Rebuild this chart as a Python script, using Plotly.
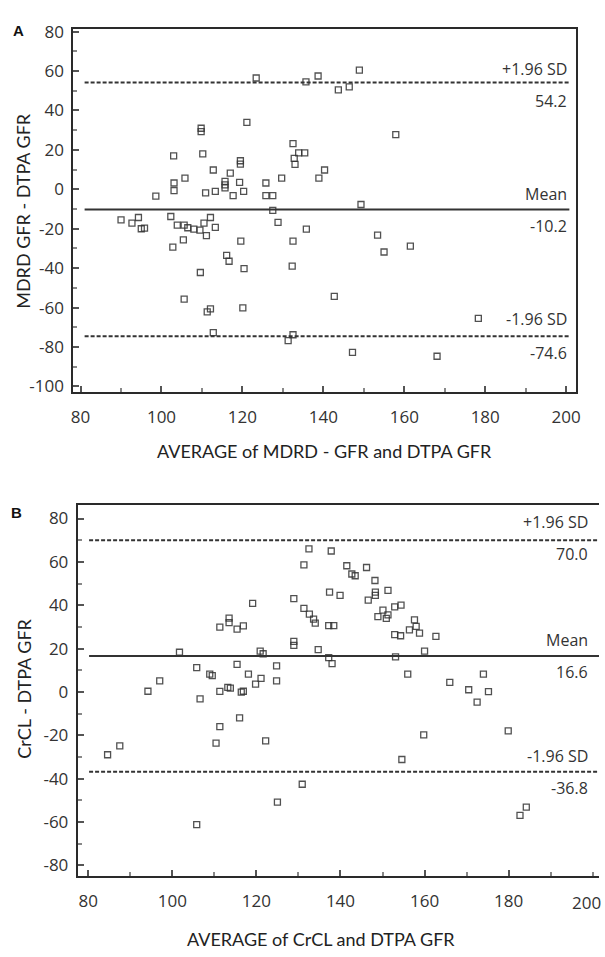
import plotly.graph_objects as go

W, H = 605, 957

# ---------------- Data ----------------
# Panel A: MDRD GFR vs DTPA GFR (Bland-Altman)
a_avg = [123.4, 135.7, 138.7, 143.7, 146.4, 148.9, 157.9, 135.4, 133.9, 140.3,
         138.9, 149.3, 135.8, 153.4, 155.0, 161.5, 142.7, 178.3, 147.2, 168.1,
         121.1, 109.8, 109.8, 103.0, 110.2, 112.8, 119.5, 119.5, 117.0, 115.7,
         115.7, 115.7, 119.3, 120.3, 117.7, 113.3, 110.9, 105.8, 103.1, 103.1,
         98.6, 125.8, 125.8, 127.5, 129.7, 132.5, 132.8, 133.0, 127.5, 90.0,
         92.7, 94.3, 95.8, 95.0, 102.3, 103.9, 105.6, 106.5, 108.0, 109.5,
         110.5, 112.1, 113.3, 111.1, 105.4, 102.8, 119.6, 116.1, 116.7, 109.6,
         120.4, 105.6, 112.1, 111.3, 120.1, 112.8, 131.3, 132.5, 128.8, 132.5,
         132.3]
a_diff = [56.5, 54.5, 57.5, 50.5, 52.0, 60.5, 27.8, 18.5, 18.5, 9.8,
          5.7, -7.7, -20.2, -23.2, -31.8, -28.8, -54.3, -65.5, -82.7, -84.7,
          34.0, 29.3, 31.0, 17.0, 18.0, 9.8, 12.8, 14.5, 8.2, 4.0,
          0.7, 2.3, 3.5, -1.0, -3.2, -1.0, -1.8, 5.7, 3.2, -0.7,
          -3.5, 3.2, -3.2, -3.2, 5.7, 23.2, 15.7, 12.7, -10.7, -15.5,
          -17.2, -14.3, -19.7, -20.0, -13.8, -18.2, -18.2, -19.5, -20.2, -20.7,
          -17.2, -14.3, -19.3, -23.5, -25.7, -29.3, -26.3, -33.5, -36.5, -42.2,
          -40.2, -55.7, -60.7, -62.2, -60.2, -72.7, -76.8, -73.8, -16.8, -26.3,
          -39.0]
a_mean, a_upper, a_lower = -10.2, 54.2, -74.6

# Panel B: CrCL vs DTPA GFR (Bland-Altman)
b_avg = [101.7, 113.5, 113.5, 111.3, 115.4, 116.9, 119.1, 120.9, 121.6, 128.9,
         128.9, 128.9, 131.3, 132.5, 137.8, 131.3, 132.6, 133.6, 134.0, 137.2,
         138.4, 137.4, 134.7, 137.2, 138.0, 115.4, 84.6, 87.5, 94.2, 97.0,
         105.8, 108.9, 109.5, 106.6, 111.3, 113.2, 113.8, 116.4, 116.9, 118.1,
         119.8, 121.1, 124.8, 124.8, 111.3, 110.4, 116.0, 122.2, 105.8, 125.0,
         130.9, 141.5, 142.7, 143.5, 146.2, 148.2, 148.3, 148.3, 146.6, 151.3,
         139.9, 150.1, 151.3, 152.9, 154.4, 150.9, 148.9, 152.9, 154.3, 156.4,
         158.0, 157.6, 158.8, 162.7, 160.0, 153.1, 156.0, 166.0, 174.0, 170.5,
         172.5, 175.2, 159.8, 179.9, 154.6, 182.7, 184.2]
b_diff = [18.3, 34.0, 32.0, 29.9, 29.0, 30.5, 40.8, 18.8, 17.6, 43.0,
          23.3, 21.5, 58.6, 66.0, 65.0, 38.5, 35.9, 33.6, 31.7, 30.6,
          30.6, 46.0, 19.5, 15.8, 13.0, 12.7, -29.0, -24.9, 0.3, 5.1,
          11.2, 8.2, 7.5, -3.2, 0.2, 2.1, 1.7, -0.1, 0.3, 8.2,
          3.6, 6.2, 12.0, 5.1, -16.0, -23.6, -12.0, -22.6, -61.2, -50.9,
          -42.6, 58.2, 54.4, 53.6, 57.4, 51.4, 46.0, 44.5, 42.3, 46.8,
          44.5, 37.7, 35.5, 39.2, 40.0, 33.9, 34.7, 26.4, 25.9, 28.6,
          30.2, 33.2, 27.1, 25.6, 18.8, 16.2, 8.2, 4.4, 8.2, 1.0,
          -4.7, 0.1, -19.8, -18.0, -31.2, -57.0, -53.2]
b_mean, b_upper, b_lower = 16.6, 70.0, -36.8

x_ticks = [80, 100, 120, 140, 160, 180, 200]
b_x_ticks = [80, 100, 120, 140, 160, 180]   # 200 is drawn separately at the edge
a_yticks = [80, 60, 40, 20, 0, -20, -40, -60, -80, -100]
b_yticks = [80, 60, 40, 20, 0, -20, -40, -60, -80]

# ---------------- Layout helpers ----------------
def px_x(p):
    return p / W

def px_y(p):
    return 1 - p / H

TICKFONT = dict(family="Open Sans", size=17, color="#333")
TITLEFONT = dict(family="Lato", size=18, color="#222")
LBLFONT = dict(family="Open Sans", size=16, color="#333")

marker = dict(symbol="square-open", size=6, color="#333",
              line=dict(width=1.3, color="#333"), opacity=0.85)

fig = go.Figure()
fig.add_trace(go.Scatter(x=a_avg, y=a_diff, mode="markers", marker=marker,
                         xaxis="x", yaxis="y", showlegend=False))
fig.add_trace(go.Scatter(x=b_avg, y=b_diff, mode="markers", marker=marker,
                         xaxis="x2", yaxis="y2", showlegend=False))

def xax(domain, rng, anchor, tv, mirror=True):
    return dict(domain=domain, range=rng, anchor=anchor,
                tickmode="array", tickvals=tv, ticktext=[str(t) for t in tv],
                ticks="inside", ticklen=6, tickcolor="#555", tickwidth=1.5,
                minor=dict(dtick=10, tick0=80, ticks="inside", ticklen=4, tickcolor="#888"),
                showline=True, linecolor="#2a2a2a", linewidth=2, mirror=mirror,
                showgrid=False, zeroline=False, tickfont=TICKFONT,
                ticklabelstandoff=8, fixedrange=True)

def yax(domain, rng, anchor, tv, mirror=True):
    return dict(domain=domain, range=rng, anchor=anchor,
                tickmode="array", tickvals=tv, ticktext=[str(t) for t in tv],
                ticks="inside", ticklen=6, tickcolor="#555", tickwidth=1.5,
                minor=dict(dtick=10, tick0=0, ticks="inside", ticklen=4, tickcolor="#888"),
                showline=True, linecolor="#2a2a2a", linewidth=2, mirror=mirror,
                showgrid=False, zeroline=False, tickfont=TICKFONT,
                ticklabelstandoff=4, fixedrange=True)

fig.update_layout(
    width=W, height=H,
    margin=dict(l=0, r=0, t=0, b=0),
    paper_bgcolor="white", plot_bgcolor="white",
    hovermode=False,
    xaxis=xax([px_x(72), px_x(580)], [78.2, 202.5], "y", x_ticks),
    yaxis=yax([px_y(389), px_y(20)], [-103, 81.5], "x", a_yticks),
    xaxis2=xax([px_x(76.5), px_x(603)], [77.5, 201.5], "y2", b_x_ticks),
    yaxis2=yax([px_y(880), px_y(503)], [-85, 86.4], "x2", b_yticks, mirror=False),
)

shapes = []
for (xr, yr, x0, x1, vals) in [("x", "y", 81, 200.8, (a_upper, a_mean, a_lower)),
                               ("x2", "y2", 80.2, 201.5, (b_upper, b_mean, b_lower))]:
    up, mn, lo = vals
    shapes.append(dict(type="line", xref=xr, yref=yr, x0=x0, x1=x1, y0=up, y1=up,
                       line=dict(color="#333", width=2, dash="4px,2px")))
    shapes.append(dict(type="line", xref=xr, yref=yr, x0=x0, x1=x1, y0=mn, y1=mn,
                       line=dict(color="#333", width=2)))
    shapes.append(dict(type="line", xref=xr, yref=yr, x0=x0, x1=x1, y0=lo, y1=lo,
                       line=dict(color="#333", width=2, dash="4px,2px")))
fig.update_layout(shapes=shapes)

ann = []
def lab(text, xr, yr, x, y, shift):
    ann.append(dict(text=text, xref=xr, yref=yr, x=x, y=y, xanchor="right",
                    yanchor="middle", yshift=shift, showarrow=False, font=LBLFONT))

lab("+1.96 SD", "x", "y", 200.8, a_upper, 14)
lab(f"{a_upper:.1f}", "x", "y", 200.8, a_upper, -18)
lab("Mean", "x", "y", 200.8, a_mean, 15)
lab(f"{a_mean:.1f}", "x", "y", 200.8, a_mean, -17)
lab("-1.96 SD", "x", "y", 200.8, a_lower, 17)
lab(f"{a_lower:.1f}", "x", "y", 200.8, a_lower, -17)

lab("+1.96 SD", "x2", "y2", 199.4, b_upper, 18)
lab(f"{b_upper:.1f}", "x2", "y2", 199.4, b_upper, -14)
lab("Mean", "x2", "y2", 199.4, b_mean, 16)
lab(f"{b_mean:.1f}", "x2", "y2", 199.4, b_mean, -16)
lab("-1.96 SD", "x2", "y2", 199.4, b_lower, 16)
lab(f"{b_lower:.1f}", "x2", "y2", 199.4, b_lower, -16)

# the "200" tick label of panel B sits at the page edge (kept inside the page)
ann.append(dict(text="200", xref="paper", yref="paper", x=px_x(590), y=px_y(907),
                xanchor="center", yanchor="middle", borderpad=0,
                showarrow=False, font=TICKFONT))

# axis titles
ann.append(dict(text="AVERAGE of MDRD - GFR and DTPA GFR", xref="paper", yref="paper",
                x=px_x(326), y=px_y(449), xanchor="center", yanchor="middle",
                showarrow=False, font=TITLEFONT))
ann.append(dict(text="AVERAGE of CrCL and DTPA GFR", xref="paper", yref="paper",
                x=px_x(322), y=px_y(944), xanchor="center", yanchor="middle",
                showarrow=False, font=TITLEFONT))
ann.append(dict(text="MDRD GFR - DTPA GFR", xref="paper", yref="paper",
                x=px_x(21), y=px_y(205), xanchor="center", yanchor="middle",
                textangle=-90, showarrow=False, font=TITLEFONT))
ann.append(dict(text="CrCL - DTPA GFR", xref="paper", yref="paper",
                x=px_x(22), y=px_y(690), xanchor="center", yanchor="middle",
                textangle=-90, showarrow=False, font=TITLEFONT))
# panel letters
ann.append(dict(text="<b>A</b>", xref="paper", yref="paper", x=px_x(17), y=px_y(22),
                xanchor="center", yanchor="middle", showarrow=False,
                font=dict(family="Liberation Sans", size=15, color="#111")))
ann.append(dict(text="<b>B</b>", xref="paper", yref="paper", x=px_x(15), y=px_y(511),
                xanchor="center", yanchor="middle", showarrow=False,
                font=dict(family="Liberation Sans", size=15, color="#111")))
fig.update_layout(annotations=ann)

# remove the browser's default 8px body margin so the figure fills the window exactly
fig.write_html("out.html",
               config={"displayModeBar": False},
               post_script="document.body.style.margin='0';"
                           "document.body.style.overflow='hidden';")
